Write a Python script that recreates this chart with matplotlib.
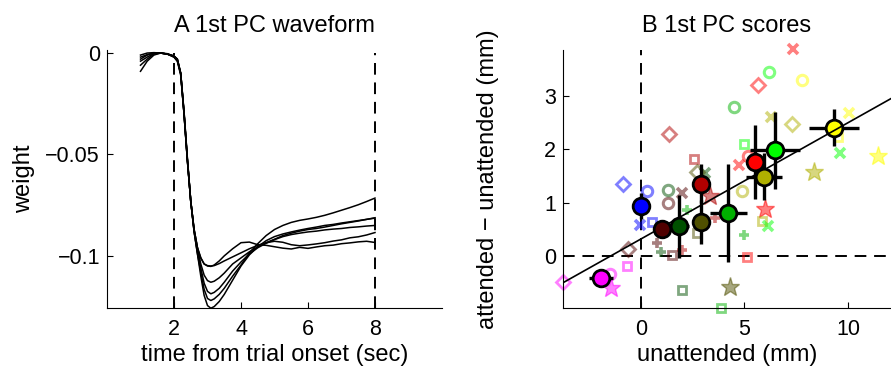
import matplotlib
matplotlib.use("Agg")
import matplotlib.pyplot as plt
import numpy as np

plt.rcParams['font.family'] = ['Liberation Sans', 'DejaVu Sans']

# ---------------- Panel A data ----------------
times = [1.0, 1.2, 1.4, 1.6, 1.8, 2.0, 2.1, 2.2, 2.3, 2.4, 2.5, 2.6, 2.7, 2.8, 2.9,
         3.0, 3.1, 3.2, 3.35, 3.5, 3.75, 4.0, 4.25, 4.5, 4.75, 5.0, 5.25, 5.5, 5.75,
         6.0, 6.25, 6.5, 6.75, 7.0, 7.25, 7.5, 7.75, 8.0]

wave1 = [-0.009, -0.004, -0.001, 0.0, -0.0005, -0.0015, -0.003, -0.010, -0.030, -0.053,
         -0.073, -0.087, -0.096, -0.101, -0.104, -0.105, -0.1052, -0.1045, -0.1025, -0.100,
         -0.0965, -0.0935, -0.0932, -0.0945, -0.0948, -0.0955, -0.0962, -0.0966, -0.0958,
         -0.0963, -0.0956, -0.0950, -0.0947, -0.0940, -0.0936, -0.0931, -0.0928, -0.0934]
wave2 = [-0.006, -0.003, -0.0005, 0.0, -0.0005, -0.0015, -0.003, -0.010, -0.030, -0.053,
         -0.073, -0.087, -0.096, -0.101, -0.104, -0.1048, -0.105, -0.1048, -0.1038, -0.1025,
         -0.1005, -0.0985, -0.0965, -0.0948, -0.0935, -0.0928, -0.0933, -0.0945, -0.0950,
         -0.0946, -0.0941, -0.0935, -0.0927, -0.0921, -0.0911, -0.0906, -0.0897, -0.0885]
wave3 = [-0.004, -0.002, -0.0003, 0.0, -0.0003, -0.0015, -0.003, -0.010, -0.030, -0.053,
         -0.073, -0.087, -0.096, -0.104, -0.1095, -0.1122, -0.1130, -0.1125, -0.1108, -0.1085,
         -0.1040, -0.1010, -0.0980, -0.0955, -0.0935, -0.0918, -0.0900, -0.0888, -0.0878,
         -0.0870, -0.0865, -0.0858, -0.0850, -0.0842, -0.0835, -0.0828, -0.0820, -0.0814]
wave4 = [-0.002, -0.0008, 0.0, 0.0, -0.0005, -0.002, -0.004, -0.011, -0.030, -0.053,
         -0.073, -0.088, -0.098, -0.106, -0.1135, -0.1175, -0.1187, -0.1180, -0.1160, -0.1130,
         -0.1075, -0.1030, -0.0990, -0.0960, -0.0938, -0.0920, -0.0905, -0.0895, -0.0888,
         -0.0882, -0.0878, -0.0872, -0.0868, -0.0865, -0.0860, -0.0857, -0.0853, -0.0850]
wave5 = [-0.001, 0.0, 0.0002, 0.0, -0.0005, -0.0015, -0.0035, -0.010, -0.029, -0.052,
         -0.073, -0.088, -0.099, -0.108, -0.1165, -0.1210, -0.1220, -0.1212, -0.1190, -0.1160,
         -0.1100, -0.1045, -0.0985, -0.0940, -0.0900, -0.0870, -0.0850, -0.0835, -0.0825,
         -0.0818, -0.0810, -0.0800, -0.0788, -0.0775, -0.0762, -0.0748, -0.0732, -0.0715]
wave6 = [-0.003, -0.001, 0.0, 0.0, -0.0005, -0.002, -0.004, -0.010, -0.029, -0.052,
         -0.073, -0.088, -0.099, -0.110, -0.1195, -0.1245, -0.1258, -0.1250, -0.1225, -0.1190,
         -0.1120, -0.1050, -0.0995, -0.0955, -0.0925, -0.0905, -0.0892, -0.0882, -0.0873,
         -0.0865, -0.0858, -0.0850, -0.0845, -0.0838, -0.0832, -0.0826, -0.0820, -0.0812]
waves = [wave1, wave2, wave3, wave4, wave5, wave6]
event_times = [2, 8]

# ---------------- Panel B data ----------------
subj_x = [-1.93, 0.0, 1.0, 1.85, 2.91, 2.91, 4.22, 5.51, 5.94, 6.47, 9.34]
subj_y = [-0.42, 0.94, 0.50, 0.56, 1.36, 0.64, 0.81, 1.76, 1.49, 1.98, 2.41]
subj_xerr = [0.60, 0.30, 0.40, 0.48, 0.20, 0.20, 0.90, 0.30, 0.87, 1.22, 1.21]
subj_yerr = [0.05, 0.25, 0.08, 0.59, 0.36, 0.41, 0.92, 0.70, 0.44, 0.73, 0.35]
subj_colors = ['#ff00ff', '#0000ff', '#500000', '#005000', '#b00000', '#505000',
               '#00b000', '#ff0000', '#b0b000', '#00ff00', '#ffff00']

sess_x = [-3.78, -1.50, -1.46, -0.69,
          -0.85, 0.27, -0.05, 0.52,
          -0.61, 1.29, 2.00, 0.76, 1.51,
          1.29, 0.97, 2.00, 3.09,
          1.37, 2.58, 2.00, 3.33, 3.57,
          2.69, 4.30, 2.69,
          4.51, 3.86, 2.24, 4.99,
          7.33, 5.19, 4.73, 5.99, 5.14, 5.67,
          4.86, 5.86, 6.29, 7.28, 8.37,
          6.18, 4.99, 6.12, 9.61,
          7.76, 10.03, 9.52, 11.46]
sess_y = [-0.48, -0.34, -0.61, -0.18,
          1.35, 1.21, 0.58, 0.64,
          0.13, 0.99, 1.19, 0.24, 0.02,
          1.23, 0.07, -0.63, 1.55,
          2.28, 1.82, 0.11, 1.13, 0.71,
          1.58, -0.59, 0.43,
          2.80, -0.98, 0.86, 0.39,
          3.88, 1.87, 1.71, 0.88, -0.01, 3.21,
          1.21, 0.65, 2.60, 2.48, 1.58,
          3.45, 2.11, 0.57, 1.93,
          3.30, 2.68, 2.24, 1.88]
sess_marker = ['D', 'o', '*', 's',
               'D', 'o', 'x', 's',
               'D', 'o', 'x', '+', 's',
               'o', '+', 's', 'x',
               'D', 's', '+', '*', '+',
               'D', '*', 's',
               'o', 's', '+', '+',
               'x', 'o', 'x', '*', 's', 'D',
               'o', 's', 'x', 'D', '*',
               'o', 's', 'x', 'x',
               'o', 'x', 's', '*']
sess_subject = [0, 0, 0, 0,
                1, 1, 1, 1,
                2, 2, 2, 2, 2,
                3, 3, 3, 3,
                4, 4, 4, 4, 4,
                5, 5, 5,
                6, 6, 6, 6,
                7, 7, 7, 7, 7, 7,
                8, 8, 8, 8, 8,
                9, 9, 9, 9,
                10, 10, 10, 10]

fit_slope = 0.218
fit_intercept = 0.32

# ---------------- Figure ----------------
fig = plt.figure(figsize=(8.91, 3.68), dpi=100)
W, H = 891.0, 368.0
ax1 = fig.add_axes([107 / W, 1 - 308 / H, 335 / W, 258 / H])
ax2 = fig.add_axes([563 / W, 1 - 308 / H, 328 / W, 258 / H])

TICK_FS = 15.5
LABEL_FS = 17

for ax in (ax1, ax2):
    ax.spines['top'].set_visible(False)
    ax.spines['right'].set_visible(False)
    ax.tick_params(direction='in', length=4, width=0.8, labelsize=TICK_FS)
    ax.tick_params(axis='x', pad=8)
    ax.tick_params(axis='y', pad=5)
    for s in ('left', 'bottom'):
        ax.spines[s].set_linewidth(0.8)

# Panel A
ylo1, yhi1 = -0.1257, 0.0015
for w in waves:
    ax1.plot(times, w, color='black', lw=1.1, zorder=3)
for t in event_times:
    ax1.plot([t, t], [ylo1, 0], color='black', lw=1.4, dashes=(6, 4), zorder=2)
ax1.set_xlim(0, 10)
ax1.set_ylim(ylo1, yhi1)
ax1.set_xticks([2, 4, 6, 8])
ax1.set_yticks([-0.1, -0.05, 0])
ax1.set_yticklabels(['\u22120.1', '\u22120.05', '0'])
ax1.set_title('A 1st PC waveform', fontsize=LABEL_FS, pad=13)
ax1.set_xlabel('time from trial onset (sec)', fontsize=LABEL_FS)
ax1.set_ylabel('weight', fontsize=LABEL_FS)
ax1.xaxis.set_label_coords(0.5, -0.14)
ax1.yaxis.set_label_coords(-0.215, 0.5)

# Panel B
xlo2, xhi2 = -3.77, 12.08
ylo2, yhi2 = -0.976, 3.865
ax2.plot([xlo2, xhi2], [0, 0], color='black', lw=1.4, dashes=(6, 4), zorder=1)
ax2.plot([0, 0], [ylo2, yhi2], color='black', lw=1.4, dashes=(6, 4), zorder=1)

for x, y, m, s in zip(sess_x, sess_y, sess_marker, sess_subject):
    c = subj_colors[s]
    if m == '*':
        kw = dict(marker='*', ms=14, color=c, mec=c)
    elif m in ('x', '+'):
        kw = dict(marker=m, ms=6.5, mew=2.6, color=c)
    elif m == 'D':
        kw = dict(marker='D', ms=7, mew=2, mfc='none', mec=c)
    elif m == 's':
        kw = dict(marker='s', ms=6, mew=2, mfc='none', mec=c)
    else:
        kw = dict(marker='o', ms=7.5, mew=2.2, mfc='none', mec=c)
    ax2.plot(x, y, ls='none', alpha=0.5, zorder=2, clip_on=False, **kw)

xs = np.array([xlo2, xhi2])
ax2.plot(xs, fit_intercept + fit_slope * xs, color='black', lw=1.2, zorder=4)

for x, y, xe, ye, c in zip(subj_x, subj_y, subj_xerr, subj_yerr, subj_colors):
    z = 3 if c == '#ffff00' else 5
    ax2.errorbar(x, y, xerr=xe, yerr=ye, fmt='none', ecolor='black', elinewidth=2.4,
                 capsize=0, zorder=z)
    ax2.plot(x, y, marker='o', ms=12, mfc=c, mec='black', mew=2, ls='none', zorder=z + 0.1)

ax2.set_xlim(xlo2, xhi2)
ax2.set_ylim(ylo2, yhi2)
ax2.set_xticks([0, 5, 10])
ax2.set_yticks([0, 1, 2, 3])
ax2.set_title('B 1st PC scores', fontsize=LABEL_FS, pad=13)
ax2.set_xlabel('unattended (mm)', fontsize=LABEL_FS)
ax2.set_ylabel('attended \u2212 unattended (mm)', fontsize=LABEL_FS)
ax2.xaxis.set_label_coords(0.5, -0.14)
ax2.yaxis.set_label_coords(-0.195, 0.5)

fig.savefig('out.png', dpi=100)
